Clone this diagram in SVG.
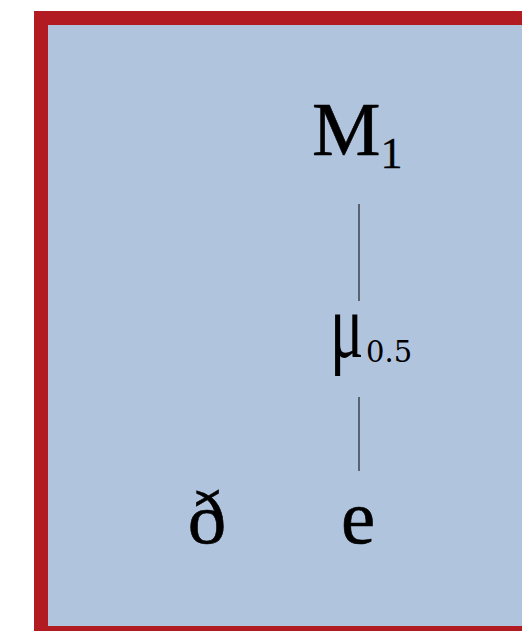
<svg xmlns="http://www.w3.org/2000/svg" width="522" height="631" viewBox="0 0 522 631">
<style>
.t{font-family:"Liberation Serif","Times New Roman",serif;fill:#000}
.edge{stroke:#222;stroke-width:1.2;fill:none}
</style>
<rect x="0" y="0" width="522" height="631" fill="#fff"/>
<rect x="41" y="18" width="500" height="615" fill="#b0c4de" stroke="#b31b22" stroke-width="14"/>
<g id="connectors">
<line class="edge" x1="359" y1="204" x2="359" y2="301"/>
<line class="edge" x1="359" y1="397" x2="359" y2="471"/>
<text transform="translate(330,357) scale(0.68,1)" class="t" style="font-size:92px">μ</text>
<text x="366" y="362" class="t" style="font-family:'DejaVu Serif',serif;font-size:29px">0.5</text>
</g>
<g id="M1"><text x="312" y="155" class="t" style="font-size:77px;stroke:#000;stroke-width:0.6">M<tspan dy="13" style="font-size:44px;stroke-width:0.3">1</tspan></text></g>
<g id="eth"><text x="207" y="543" class="t" text-anchor="middle" style="font-size:77px;stroke:#000;stroke-width:0.6">ð</text></g>
<g id="e"><text x="358" y="543" class="t" text-anchor="middle" style="font-size:77px;stroke:#000;stroke-width:0.6">e</text></g>
</svg>
